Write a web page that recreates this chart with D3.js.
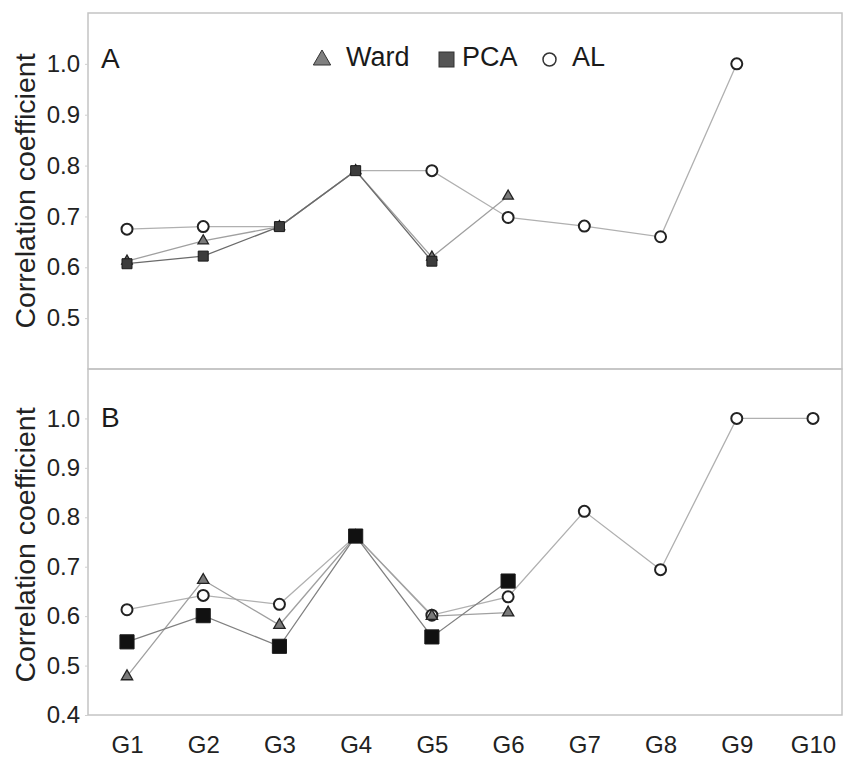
<!DOCTYPE html>
<html>
<head>
<meta charset="utf-8">
<script src="https://cdn.jsdelivr.net/npm/d3@7"></script>
<style>
  html, body { margin: 0; padding: 0; background: #fff; }
  svg { display: block; font-family: "Liberation Sans", Arial, sans-serif; }
</style>
</head>
<body>
<svg id="chart" width="848" height="758"></svg>
<script>
// ---------------- data ----------------
const categories = ["G1","G2","G3","G4","G5","G6","G7","G8","G9","G10"];

const wardA = [0.612, 0.652, 0.680, 0.790, 0.620, 0.740, null, null, null, null];
const pcaA  = [0.607, 0.622, 0.680, 0.790, 0.612, null, null, null, null, null];
const alA   = [0.675, 0.680, 0.680, 0.790, 0.790, 0.698, 0.681, 0.660, 1.000, null];

const wardB = [0.478, 0.673, 0.582, 0.762, 0.600, 0.607, null, null, null, null];
const pcaB  = [0.548, 0.601, 0.539, 0.762, 0.558, 0.671, null, null, null, null];
const alB   = [0.613, 0.642, 0.624, 0.762, 0.602, 0.639, 0.812, 0.694, 1.000, 1.000];

const ticksA = [0.5, 0.6, 0.7, 0.8, 0.9, 1.0];
const ticksB = [0.4, 0.5, 0.6, 0.7, 0.8, 0.9, 1.0];

const legendNames = ["Ward", "PCA", "AL"];
const yTitle = "Correlation coefficient";

// ---------------- layout ----------------
const svg = d3.select("#chart");
const left = 88, right = 842;
const x = d3.scalePoint().domain(categories).range([127, 813]);
const yA = d3.scaleLinear().domain([0.4, 1.1]).range([369, 13]);
const yB = d3.scaleLinear().domain([0.4, 1.1]).range([715, 369]);

function panel(y, ticks, ward, pca, al, opts) {
  const g = svg.append("g");
  const [y0, y1] = y.range();
  // frame
  g.append("rect")
    .attr("x", left).attr("y", y1)
    .attr("width", right - left).attr("height", y0 - y1)
    .attr("fill", "none").attr("stroke", "#c4c4c4").attr("stroke-width", 1.5);

  // y axis
  const ax = g.append("g").attr("transform", `translate(${left},0)`)
    .call(d3.axisLeft(y).tickValues(ticks).tickFormat(d3.format(".1f")).tickSize(3).tickPadding(5));
  ax.select(".domain").remove();
  ax.selectAll(".tick line").attr("stroke", "#d0d0d0");
  ax.selectAll(".tick text").attr("font-size", 24).attr("fill", "#222")
    .attr("font-family", "Liberation Sans, Arial, sans-serif");

  // y title
  g.append("text")
    .attr("transform", `translate(35,${opts.titleY}) rotate(-90)`)
    .attr("text-anchor", "middle")
    .attr("font-size", 28.5).attr("fill", "#222")
    .text(yTitle);

  // panel letter
  g.append("text").attr("x", opts.letterX).attr("y", opts.letterY)
    .attr("font-size", 28).attr("fill", "#1a1a1a").text(opts.letter);

  const line = d3.line()
    .defined(d => d != null)
    .x((d, i) => x(categories[i]))
    .y(d => y(d));

  // lines
  g.append("path").datum(al).attr("d", line).attr("fill", "none")
    .attr("stroke", "#b0b0b0").attr("stroke-width", 1.3);
  g.append("path").datum(ward).attr("d", line).attr("fill", "none")
    .attr("stroke", "#a0a0a0").attr("stroke-width", 1.3);
  g.append("path").datum(pca).attr("d", line).attr("fill", "none")
    .attr("stroke", opts.pcaLine).attr("stroke-width", 1.3);

  const pts = arr => arr.map((v, i) => ({ c: categories[i], v, i })).filter(d => d.v != null);

  // AL circles (hidden where they coincide with a PCA square)
  g.selectAll(".al").data(pts(al).filter(d => pca[d.i] == null || Math.abs(pca[d.i] - d.v) > 0.005)).join("circle")
    .attr("cx", d => x(d.c)).attr("cy", d => y(d.v)).attr("r", 5.5)
    .attr("fill", "#fff").attr("stroke", "#222").attr("stroke-width", 2);
  // Ward triangles
  g.selectAll(".ward").data(pts(ward)).join("path")
    .attr("d", d3.symbol().type(d3.symbolTriangle).size(opts.triSize))
    .attr("transform", d => `translate(${x(d.c)},${y(d.v)})`)
    .attr("fill", "#7a7a7a").attr("stroke", "#222").attr("stroke-width", 1.3);
  // PCA squares
  g.selectAll(".pca").data(pts(pca)).join("path")
    .attr("d", d3.symbol().type(d3.symbolSquare).size(opts.sqSize))
    .attr("transform", d => `translate(${x(d.c)},${y(d.v)})`)
    .attr("fill", opts.sqFill).attr("stroke", "#1a1a1a").attr("stroke-width", 1);
  return g;
}

panel(yA, ticksA, wardA, pcaA, alA,
  { titleY: 191, letter: "A", letterX: 101, letterY: 68, sqSize: 100, triSize: 48, sqFill: "#3c3c3c", pcaLine: "#6a6a6a" });
panel(yB, ticksB, wardB, pcaB, alB,
  { titleY: 545, letter: "B", letterX: 101, letterY: 427, sqSize: 200, triSize: 56, sqFill: "#111", pcaLine: "#808080" });

// x axis (bottom)
const xa = svg.append("g").attr("transform", "translate(0,715)")
  .call(d3.axisBottom(x).tickSize(0).tickPadding(21));
xa.select(".domain").remove();
xa.selectAll(".tick text").attr("font-size", 24).attr("fill", "#222")
  .attr("font-family", "Liberation Sans, Arial, sans-serif");

// legend
const lg = svg.append("g");
lg.append("path").attr("d", d3.symbol().type(d3.symbolTriangle).size(130))
  .attr("transform", "translate(322,60)")
  .attr("fill", "#808080").attr("stroke", "#333").attr("stroke-width", 1);
lg.append("text").attr("x", 346).attr("y", 66).attr("font-size", 27).attr("fill", "#1a1a1a").text(legendNames[0]);
lg.append("rect").attr("x", 439).attr("y", 52).attr("width", 15).attr("height", 15)
  .attr("fill", "#555").attr("stroke", "#333").attr("stroke-width", 1);
lg.append("text").attr("x", 462).attr("y", 66).attr("font-size", 27).attr("fill", "#1a1a1a").text(legendNames[1]);
lg.append("circle").attr("cx", 549.5).attr("cy", 59.5).attr("r", 6.5)
  .attr("fill", "#fff").attr("stroke", "#333").attr("stroke-width", 1.5);
lg.append("text").attr("x", 572).attr("y", 66).attr("font-size", 27).attr("fill", "#1a1a1a").text(legendNames[2]);
</script>
</body>
</html>
